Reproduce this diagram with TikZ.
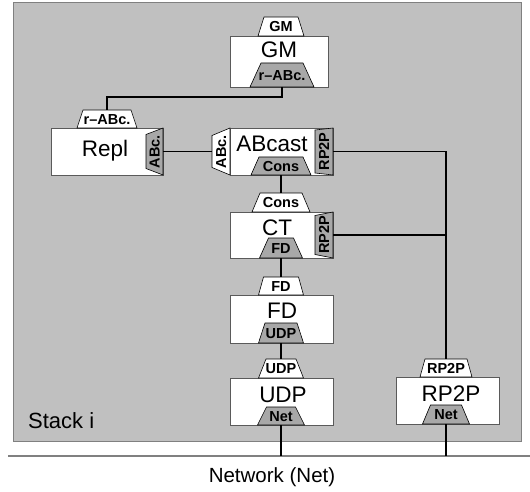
\documentclass[tikz,border=0pt]{standalone}
\usepackage{fontspec}
\setmainfont{Liberation Sans}
\definecolor{bggray}{RGB}{192,192,192}
\definecolor{tabgray}{RGB}{168,168,168}
\definecolor{edgegray}{RGB}{90,90,90}
\tikzset{
  boxstyle/.style={draw=edgegray,fill=white,line width=0.8pt},
  tabwhite/.style={draw=black,fill=white,line width=0.6pt},
  tabdark/.style={draw=black,fill=tabgray,line width=0.6pt},
  tablabel/.style={font=\fontsize{14.5}{15}\selectfont\bfseries,inner sep=0pt},
  boxlabel/.style={font=\fontsize{22.5}{24}\selectfont,inner sep=0pt,anchor=base},
  wire/.style={draw=black,line width=1.6pt},
}
\newcommand{\htab}[8]{%
  \draw[#7] ({#2-#5},#3) -- ({#2+#5},#3) -- ({#2+#6},#4) -- ({#2-#6},#4) -- cycle;
  \coordinate (#1-t) at (#2,#3);
  \coordinate (#1-b) at (#2,#4);
  \node[tablabel,anchor=base] (#1) at (#2,{(#3+#4)/2+5.2}) {#8};
}
\newcommand{\vtab}[8]{%
  \draw[#7] (#3,{#2-#5}) -- (#4,{#2-#6}) -- (#4,{#2+#6}) -- (#3,{#2+#5}) -- cycle;
  \coordinate (#1-l) at (#3,#2);
  \coordinate (#1-r) at (#4,#2);
  \node[tablabel,anchor=base,rotate=90] (#1) at ({(#3+#4)/2+5.2},#2) {#8};
}
\begin{document}
\begin{tikzpicture}[x=1pt,y=-1pt]
\useasboundingbox (0,0) rectangle (530,492);
% stack background
\draw[fill=bggray,draw=gray,line width=1pt] (13,3) rectangle (521,441);
\node[font=\fontsize{22}{24}\selectfont,inner sep=0pt,anchor=base west] (stack) at (28,428) {Stack i};
% network
\coordinate (netL) at (8,456);
\coordinate (netR) at (530,456);
\draw[gray,line width=1.2pt] (netL) -- (netR);
\node[font=\fontsize{20.5}{22}\selectfont,inner sep=0pt,anchor=base] (network) at (272,482) {Network (Net)};
% boxes
\draw[boxstyle] (230,36) rectangle (328,87);
\node[boxlabel] (gm) at (279,58) {GM};
\draw[boxstyle] (51,128) rectangle (163,175);
\node[boxlabel] (repl) at (105,157) {Repl};
\draw[boxstyle] (230,128) rectangle (333,175);
\node[boxlabel] (abcast) at (272,152) {ABcast};
\draw[boxstyle] (230,212) rectangle (333,258);
\node[boxlabel] (ct) at (277,235) {CT};
\draw[boxstyle] (230,295) rectangle (333,343);
\node[boxlabel] (fd) at (282,318) {FD};
\draw[boxstyle] (230,378) rectangle (333,425);
\node[boxlabel] (udp) at (283,402) {UDP};
\draw[boxstyle] (396,377) rectangle (499,424);
\node[boxlabel] (rp2p) at (451,401) {RP2P};
% tabs
\htab{gmt}{281}{17}{36}{17}{23}{tabwhite}{GM}
\htab{gmb}{282}{63}{87}{21}{32}{tabdark}{r--ABc.}
\htab{replt}{107}{110}{128}{24}{30}{tabwhite}{r--ABc.}
\vtab{replr}{151.5}{146}{163}{17}{23.5}{tabdark}{ABc.}
\vtab{abcl}{151.5}{212}{230}{16}{23.5}{tabwhite}{ABc.}
\vtab{abcr}{151.5}{315}{333}{21.5}{23.5}{tabdark}{RP2P}
\htab{abcb}{281}{157}{175}{22}{30}{tabdark}{Cons}
\htab{ctt}{281}{193}{212}{21}{29}{tabwhite}{Cons}
\vtab{ctr}{235}{315}{333}{19.5}{23}{tabdark}{RP2P}
\htab{ctb}{281}{238}{258}{12.5}{21.5}{tabdark}{FD}
\htab{fdt}{281}{277}{295}{17.5}{22.5}{tabwhite}{FD}
\htab{fdb}{281}{323}{343}{16}{22.5}{tabdark}{UDP}
\htab{udpt}{281}{359}{378}{15}{22.5}{tabwhite}{UDP}
\htab{udpb}{281}{407}{425}{14.5}{23.5}{tabdark}{Net}
\htab{rpt}{446}{359}{377}{21}{26}{tabwhite}{RP2P}
\htab{rpb}{446}{405}{424}{15.5}{23.5}{tabdark}{Net}
% connectors
\draw[wire] (gmb-b) -- ++(0,10) -| (replt-t);
\draw[wire] (replr-r) -- (abcl-l);
\draw[wire] (abcb-b) -- (ctt-t);
\draw[wire] (ctb-b) -- (fdt-t);
\draw[wire] (fdb-b) -- (udpt-t);
\draw[wire] (abcr-r) -| (rpt-t);
\draw[wire] (ctr-r) -- (ctr-r -| rpt-t);
\draw[wire] (udpb-b) -- (udpb-b |- netL);
\draw[wire] (rpb-b) -- (rpb-b |- netL);
\end{tikzpicture}
\end{document}
